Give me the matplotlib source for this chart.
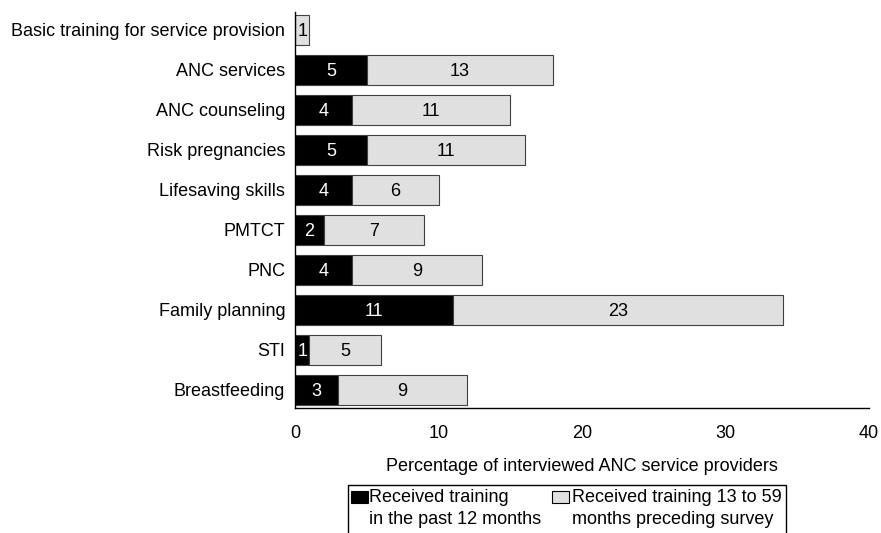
import matplotlib
matplotlib.use("Agg")
import matplotlib.pyplot as plt
from matplotlib.patches import Rectangle

plt.rcParams['font.family'] = ['Liberation Sans', 'DejaVu Sans']

categories = ["Basic training for service provision", "ANC services", "ANC counseling",
              "Risk pregnancies", "Lifesaving skills", "PMTCT", "PNC",
              "Family planning", "STI", "Breastfeeding"]
past12 = [0, 5, 4, 5, 4, 2, 4, 11, 1, 3]
m13_59 = [1, 13, 11, 11, 6, 7, 9, 23, 5, 9]
xticks = [0, 10, 20, 30, 40]
xlabel = "Percentage of interviewed ANC service providers"
legend_labels = ["Received training\nin the past 12 months",
                 "Received training 13 to 59\nmonths preceding survey"]
colors = ["black", "#e0e0e0"]

W, H = 881, 533
fs = 13
fig = plt.figure(figsize=(W/100, H/100), dpi=100)
ax = fig.add_axes([295/W, 1-408/H, (869-295)/W, (408-12)/H])

n = len(categories)
ys = [n-1-i for i in range(n)]
edge = "#404040"
ax.barh(ys, past12, height=0.75, color=colors[0], edgecolor=edge, linewidth=0.8)
ax.barh(ys, m13_59, left=past12, height=0.75, color=colors[1], edgecolor=edge, linewidth=0.8)

for y, a, b in zip(ys, past12, m13_59):
    if a > 0:
        ax.text(a/2, y, str(a), ha="center", va="center_baseline", color="white", fontsize=fs)
    if b > 0:
        ax.text(a + b/2, y, str(b), ha="center", va="center_baseline", color="black", fontsize=fs)

ax.set_xlim(0, 40)
ax.set_ylim(-0.45, n-1+0.45)
ax.set_yticks(ys)
ax.set_yticklabels(categories, fontsize=fs)
ax.set_xticks(xticks)
ax.set_xticklabels([str(t) for t in xticks], fontsize=fs)
ax.tick_params(axis="y", length=0, pad=7)
ax.tick_params(axis="x", length=0, pad=12)
for s in ["top", "right"]:
    ax.spines[s].set_visible(False)
for s in ["left", "bottom"]:
    ax.spines[s].set_linewidth(1.0)
    ax.spines[s].set_color("black")
ax.set_xlabel(xlabel, fontsize=fs, labelpad=12)

# legend drawn manually (handles aligned with the first text line)
def fx(px):
    return px / W
def fy(py):
    return 1 - py / H

frame = Rectangle((fx(348), fy(545)), fx(786) - fx(348), fy(485) - fy(545),
                  transform=fig.transFigure, facecolor="white", edgecolor="black",
                  linewidth=1.0, clip_on=False)
fig.patches.append(frame)
hx = [351, 552]
tx = [369, 572]
for i, lab in enumerate(legend_labels):
    fig.patches.append(Rectangle((fx(hx[i]), fy(503)), fx(17), 12/H,
                                 transform=fig.transFigure, facecolor=colors[i],
                                 edgecolor="black", linewidth=0.8))
    for j, line in enumerate(lab.split("\n")):
        fig.text(fx(tx[i]), fy(498 + 21*j), line, ha="left", va="center", fontsize=fs)

fig.savefig("out.png", dpi=100)
